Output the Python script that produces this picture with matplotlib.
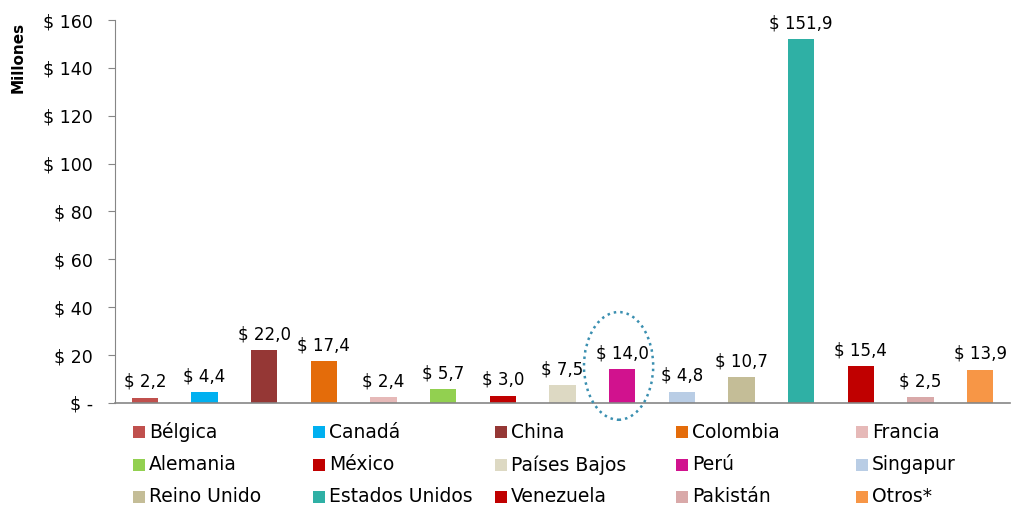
import matplotlib
matplotlib.use("Agg")
import matplotlib.pyplot as plt
from matplotlib.patches import Rectangle, Ellipse

countries = ["Bélgica", "Canadá", "China", "Colombia", "Francia",
             "Alemania", "México", "Países Bajos", "Perú", "Singapur",
             "Reino Unido", "Estados Unidos", "Venezuela", "Pakistán", "Otros*"]
values = [2.2, 4.4, 22.0, 17.4, 2.4, 5.7, 3.0, 7.5, 14.0, 4.8, 10.7, 151.9, 15.4, 2.5, 13.9]
colors = ["#C0504D", "#00B0F0", "#953735", "#E46C0A", "#E6B9B8",
          "#92D050", "#C00000", "#DDD9C3", "#D1128E", "#B9CDE5",
          "#C4BD97", "#2FB0A5", "#C00000", "#D9A9A9", "#F79646"]
yticks = [0, 20, 40, 60, 80, 100, 120, 140, 160]
ytick_labels = ["$ -", "$ 20", "$ 40", "$ 60", "$ 80", "$ 100", "$ 120", "$ 140", "$ 160"]
highlight = "Perú"

plt.rcParams['font.family'] = ['DejaVu Sans']
W, H = 1014, 505
fig = plt.figure(figsize=(W / 100, H / 100), dpi=100)
ax = fig.add_axes([115 / W, 1 - 403 / H, (1010 - 115) / W, (403 - 20) / H])

x = list(range(len(countries)))
ax.bar(x, values, width=0.44, color=colors, zorder=2)
ax.set_xlim(-0.5, len(countries) - 0.5)
ax.set_ylim(0, 160)
ax.set_yticks(yticks)
ax.set_yticklabels(ytick_labels, fontsize=12.5)
ax.set_xticks([])
for s in ["top", "right"]:
    ax.spines[s].set_visible(False)
ax.spines["left"].set_color("#868686")
ax.spines["bottom"].set_color("#868686")
ax.spines["bottom"].set_linewidth(1.2)
ax.tick_params(axis="y", direction="out", length=5, color="#868686", pad=11)

for xi, v in zip(x, values):
    ax.annotate("$ " + f"{v:.1f}".replace(".", ","), (xi, v), xytext=(0, 5),
                textcoords="offset points", ha="center", va="bottom", fontsize=12)

hi = countries.index(highlight)
ell = Ellipse((hi - 0.06, 15.5), width=1.16, height=45, fill=False,
              edgecolor="#3A8FB0", linestyle=(0, (1, 1.6)), linewidth=1.8,
              clip_on=False, zorder=3)
ax.add_patch(ell)

fig.text(18 / W, 1 - 57 / H, "Millones", rotation=90, ha="center", va="center",
         fontsize=11, fontweight="bold")

# legend (row-wise, 5 columns)
col_x = [133, 313, 495, 676, 856]
row_y = [432, 465, 497]
for i, (name, c) in enumerate(zip(countries, colors)):
    r, cidx = divmod(i, 5)
    lx, ly = col_x[cidx], row_y[r]
    fig.patches.append(Rectangle((lx / W, 1 - (ly + 6) / H), 12 / W, 12 / H,
                                 transform=fig.transFigure, facecolor=c,
                                 edgecolor="none", figure=fig))
    fig.text((lx + 16) / W, 1 - ly / H, name, ha="left", va="center", fontsize=13.5)

fig.savefig("out.png", dpi=100)
